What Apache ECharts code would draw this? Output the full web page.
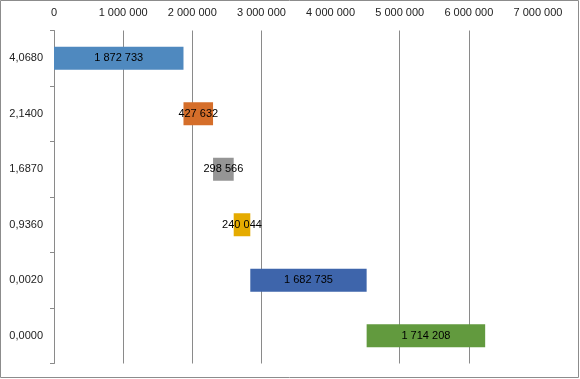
<!DOCTYPE html>
<html><head><meta charset="utf-8">
<script src="https://cdn.jsdelivr.net/npm/echarts@6/dist/echarts.min.js"></script>
<style>html,body{margin:0;padding:0;background:#fff}#c{width:580px;height:379px}</style>
</head><body><div id="c"></div>
<script>
const categories = ['4,0680', '2,1400', '1,6870', '0,9360', '0,0020', '0,0000'];
const values = [1872733, 427632, 298566, 240044, 1682735, 1714208];
const barColors = ['#4F89BF', '#D56E2A', '#959595', '#E5AB00', '#3E65AB', '#629A3E'];
const xTicks = [0, 1000000, 2000000, 3000000, 4000000, 5000000, 6000000, 7000000];

const fmt = v => String(Math.round(v)).replace(/\B(?=(\d{3})+(?!\d))/g, ' ');
const bases = [];
let acc = 0;
for (const v of values) { bases.push(acc); acc += v; }

const chart = echarts.init(document.getElementById('c'));
const font = 'Liberation Sans';
chart.setOption({
  animation: false,
  textStyle: { fontFamily: font },
  graphic: [{ type: 'rect', shape: { x: 0.5, y: 0.5, width: 578, height: 377 },
    style: { fill: 'none', stroke: '#8c8c8c', lineWidth: 1 }, silent: true, z: 100 }],
  grid: { left: 54, right: 42, top: 30.5, bottom: 15.5 },
  xAxis: {
    type: 'value', position: 'top', min: xTicks[0], max: xTicks[xTicks.length - 1], interval: 1000000,
    axisLine: { show: false }, axisTick: { show: false },
    axisLabel: { formatter: v => fmt(v), color: '#222', fontSize: 11, fontFamily: font, margin: 12 },
    splitLine: { show: true, showMinLine: false, showMaxLine: false,
      lineStyle: { color: ['#8a8a8a', '#8a8a8a', '#8a8a8a', 'rgba(0,0,0,0)', '#8a8a8a', '#8a8a8a'], width: 1 } }
  },
  yAxis: {
    type: 'category', inverse: true, data: categories,
    axisLine: { show: true, lineStyle: { color: '#8a8a8a', width: 1 } },
    axisTick: { show: true, length: 4, lineStyle: { color: '#8a8a8a' } },
    axisLabel: { color: '#222', fontSize: 11, fontFamily: font, margin: 11 }
  },
  series: [
    { type: 'bar', stack: 'w', data: bases, barWidth: 23, itemStyle: { color: 'rgba(0,0,0,0)' }, silent: true },
    { type: 'bar', stack: 'w', barWidth: 23,
      data: values.map((v, i) => ({ value: v, itemStyle: { color: barColors[i] } })),
      label: { show: true, position: 'inside', color: '#000', fontSize: 11, fontFamily: font,
        formatter: p => fmt(p.value) } }
  ]
});
</script></body></html>
